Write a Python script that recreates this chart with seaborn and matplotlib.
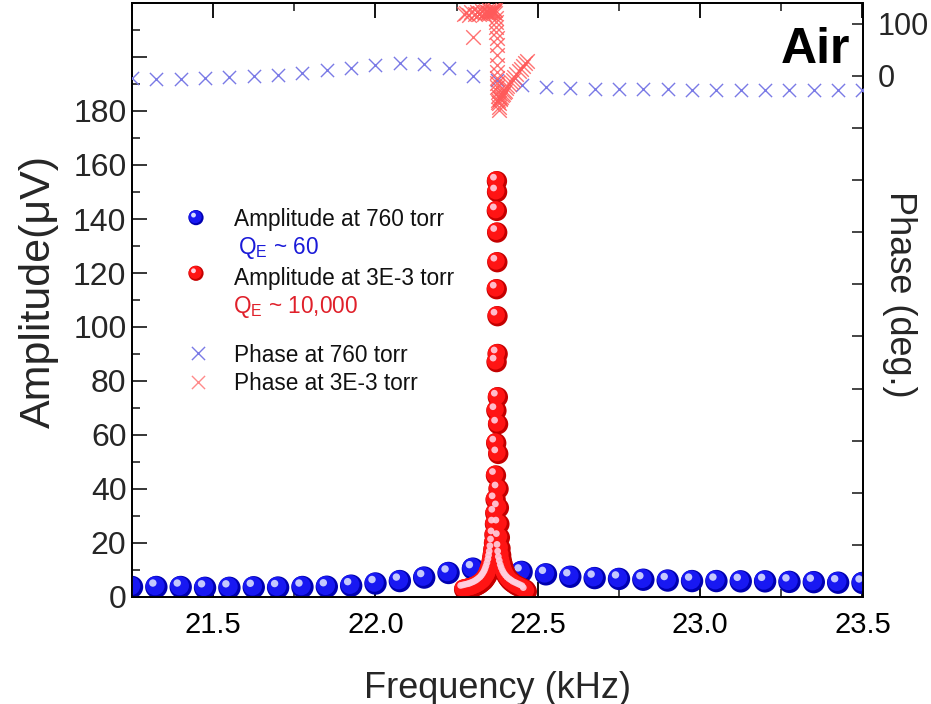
import matplotlib
matplotlib.use("Agg")
import matplotlib.pyplot as plt
import seaborn as sns
from matplotlib.transforms import ScaledTranslation

# ---------------- data ----------------
# 760 torr sweep (coarse)
freq_760 = [21.250, 21.325, 21.400, 21.475, 21.550, 21.625, 21.700, 21.775,
            21.850, 21.925, 22.000, 22.075, 22.150, 22.225, 22.300, 22.375,
            22.450, 22.525, 22.600, 22.675, 22.750, 22.825, 22.900, 22.975,
            23.050, 23.125, 23.200, 23.275, 23.350, 23.425, 23.500]
amp_760 = [3.7, 3.7, 3.7, 3.4, 3.4, 3.6, 3.5, 3.7, 3.8, 4.2, 5.0, 5.9, 7.2,
           8.9, 10.5, 10.8, 9.3, 8.4, 7.5, 7.0, 6.7, 6.4, 6.1, 5.9, 5.9, 5.8,
           5.8, 5.6, 5.5, 5.3, 5.2]
phase_760 = [-4, -6, -6, -4, -2, 0, 2, 6, 11, 15, 21, 25, 23, 15, 0, -8,
             -17, -21, -23, -25, -25, -26, -26, -27, -27, -27, -27, -27, -27,
             -27, -27]

# 3E-3 torr sweep (fine, around resonance)
freq_3e3 = [22.273, 22.280, 22.287, 22.294, 22.300, 22.306, 22.312, 22.318,
            22.323, 22.328, 22.333, 22.337, 22.341, 22.345, 22.348, 22.351,
            22.354, 22.357, 22.359, 22.361, 22.363, 22.365, 22.3665, 22.368,
            22.369, 22.370, 22.371, 22.3718, 22.3724, 22.373, 22.3734,
            22.3737, 22.374,
            22.3744, 22.3748, 22.3752, 22.3757, 22.3762, 22.3768, 22.3775,
            22.378, 22.379, 22.380, 22.3815, 22.383, 22.385, 22.387, 22.389,
            22.392, 22.395, 22.398, 22.402, 22.406, 22.411, 22.416, 22.422,
            22.428, 22.434, 22.441, 22.448, 22.455, 22.462, 22.466]
amp_3e3 = [2.8, 3.0, 3.2, 3.4, 3.6, 3.9, 4.2, 4.6, 5.0, 5.5, 6.0, 6.6, 7.3,
           8.1, 9.0, 10.0, 11.2, 12.6, 14.0, 15.5, 17.5, 20.0, 23.0, 27.0,
           31.0, 36.0, 45.0, 57.0, 69.0, 87.0, 114.0, 143.0, 154.0,
           150.0, 135.0, 124.0, 104.0, 90.0, 74.0, 64.0, 53.0, 40.0, 33.0,
           27.0, 22.0, 18.0, 15.5, 13.5, 12.0, 10.5, 9.4, 8.3, 7.4, 6.6, 5.9,
           5.3, 4.8, 4.3, 3.9, 3.5, 3.1, 2.7, 2.0]
phase_3e3 = [118, 121, 117, 122, 75, 119, 123, 118, 121, 124, 119, 122, 125,
             120, 123, 126, 121, 124, 127, 122, 125, 128, 123, 126, 120, 112,
             104, 94, 85, 73, 60, 40, 21,
             8, -4, -13, -21, -30, -38, -46, -50, -60, -65, -52, -45, -42,
             -40, -37, -34, -31, -28, -24, -20, -16, -12, -7, -2, 3, 9, 14,
             19, 24, 28]

x_ticks = [21.5, 22.0, 22.5, 23.0, 23.5]
x_tick_labels = ["21.5", "22.0", "22.5", "23.0", "23.5"]
amp_ticks = [0, 20, 40, 60, 80, 100, 120, 140, 160, 180, 200]
amp_tick_labels = ["0", "20", "40", "60", "80", "100", "120", "140", "160",
                   "180", ""]
phase_ticks = [100, 0, -100, -200, -300, -400, -500, -600, -700, -800, -900]
phase_tick_labels = ["100", "0", "", "", "", "", "", "", "", "", ""]

legend_labels = ["Amplitude at 760 torr", "Amplitude at 3E-3 torr",
                 "Phase at 760 torr", "Phase at 3E-3 torr"]
q_labels = [r"Q$_{E}$ ~ 60", r"Q$_{E}$ ~ 10,000"]

# ---------------- style ----------------
sns.set_theme(style="ticks")
plt.rcParams["font.family"] = ["Liberation Sans", "DejaVu Sans"]
plt.rcParams["mathtext.default"] = "regular"

BLUE = ("#0000b0", "#1818f2", "#d8dcff")
RED = ("#c40000", "#ff1414", "#ffd0e0")
BLUE_X = "#7a7ae6"
RED_X = "#ff5a5a"

fig = plt.figure(figsize=(9.31, 7.04), dpi=100)
ax = fig.add_axes([132 / 931, 1 - 597 / 704, (862.5 - 132) / 931, (597 - 3) / 704])
ax2 = ax.twinx()


def shift(coll, dx_px, dy_px):
    off = ScaledTranslation(dx_px / 100, dy_px / 100, fig.dpi_scale_trans)
    coll.set_offset_transform(coll.get_offset_transform() + off)


def balls_sns(axis, x, y, cols, s, z):
    base, mid, hi = cols
    sns.scatterplot(x=x, y=y, ax=axis, s=s, color=base, edgecolor="none",
                    linewidth=0, zorder=z, legend=False)
    sns.scatterplot(x=x, y=y, ax=axis, s=s * 0.72, color=mid, edgecolor="none",
                    linewidth=0, zorder=z + 0.1, legend=False)
    shift(axis.collections[-1], -1.2, 1.2)
    sns.scatterplot(x=x, y=y, ax=axis, s=s * 0.11, color=hi, edgecolor="none",
                    linewidth=0, zorder=z + 0.2, alpha=0.9, legend=False)
    shift(axis.collections[-1], -3.5, 4.0)


def balls_glyph(axis, x, y, cols, s):
    base, mid, hi = cols
    axis.scatter([x], [y], s=s, color=base, edgecolor="none",
                 transform=axis.transAxes, zorder=6, clip_on=False)
    c = axis.scatter([x], [y], s=s * 0.72, color=mid, edgecolor="none",
                     transform=axis.transAxes, zorder=6.1, clip_on=False)
    shift(c, -0.8, 0.8)
    c = axis.scatter([x], [y], s=s * 0.1, color=hi, edgecolor="none",
                     transform=axis.transAxes, zorder=6.2, clip_on=False)
    shift(c, -2.5, 2.5)


# ---------------- amplitude ----------------
balls_sns(ax, freq_760, amp_760, BLUE, 260, 3)
balls_sns(ax, freq_3e3, amp_3e3, RED, 215, 4)

# ---------------- phase ----------------
sns.scatterplot(x=freq_760, y=phase_760, ax=ax2, marker="x", s=90,
                color=BLUE_X, linewidth=1.0, zorder=3, legend=False)
sns.scatterplot(x=freq_3e3, y=phase_3e3, ax=ax2, marker="x", s=110,
                color=RED_X, linewidth=1.0, alpha=0.85, zorder=3, legend=False)

# ---------------- axes ----------------
ax.set_xlim(21.25, 23.5)
ax.set_ylim(0, 220)
ax2.set_ylim(-1000, 140)

ax.set_xticks(x_ticks)
ax.set_xticklabels(x_tick_labels)
ax.set_xticks([21.25, 21.75, 22.25, 22.75, 23.25], minor=True)
ax.set_yticks(amp_ticks)
ax.set_yticklabels(amp_tick_labels)
ax.set_yticks(list(range(10, 220, 20)), minor=True)
ax2.set_yticks(phase_ticks)
ax2.set_yticklabels(phase_tick_labels)

ax.tick_params(axis="x", which="major", direction="in", length=11, width=1.3,
               top=True, bottom=True, labelsize=21, pad=10, colors="black")
ax.tick_params(axis="x", which="minor", direction="in", length=6, width=1.2,
               top=True, bottom=True)
ax.tick_params(axis="y", which="major", direction="in", length=11, width=1.3,
               left=True, right=False, labelsize=23, pad=4)
ax.tick_params(axis="y", which="minor", direction="in", length=6, width=1.2,
               left=True, right=False)
ax2.tick_params(axis="y", which="major", direction="in", length=8, width=1.2,
                right=True, left=False, labelsize=22, pad=11)
ax2.tick_params(axis="y", which="minor", right=False, left=False)

for a in (ax, ax2):
    for sp in a.spines.values():
        sp.set_visible(True)
        sp.set_color("black")
        sp.set_linewidth(1.3)

ax.set_xlabel("Frequency (kHz)", fontsize=26)
ax.xaxis.set_label_coords(0.5, -0.124)
ax.set_ylabel("Amplitude(\u03bcV)", fontsize=31)
ax.yaxis.set_label_coords(-0.100, 0.515)
ax2.set_ylabel("Phase (deg.)", fontsize=26, rotation=270, va="bottom")
ax2.yaxis.set_label_coords(1.027, 0.51)

ax.text(0.9836, 0.899, "Air", transform=ax.transAxes, ha="right",
        va="baseline", fontsize=36, fontweight="bold", color="black")

# ---------------- legend (hand placed, as in the original figure) ----------------
tx = 0.1395
rows = [0.6347, 0.537, 0.4074, 0.3586]
balls_glyph(ax, 0.0876, rows[0] + 0.004, BLUE, 120)
balls_glyph(ax, 0.0876, rows[1] + 0.008, RED, 120)
ax2.scatter([0.0900], [rows[2] + 0.003], marker="x", s=90, color=BLUE_X,
            linewidth=1.0, transform=ax.transAxes, clip_on=False)
ax2.scatter([0.0900], [rows[3] + 0.003], marker="x", s=90, color="#ff8a8a",
            linewidth=1.0, transform=ax.transAxes, clip_on=False)
for yy, lab in zip(rows, legend_labels):
    ax.text(tx, yy, lab, transform=ax.transAxes, ha="left", va="center",
            fontsize=16.3, color="#111111")
ax.text(0.1450, 0.5875, q_labels[0], transform=ax.transAxes, ha="left",
        va="center", fontsize=16.3, color="#1a1ad8")
ax.text(0.1380, 0.4880, q_labels[1], transform=ax.transAxes, ha="left",
        va="center", fontsize=16.3, color="#e0202a")

fig.savefig("out.png", dpi=100)
